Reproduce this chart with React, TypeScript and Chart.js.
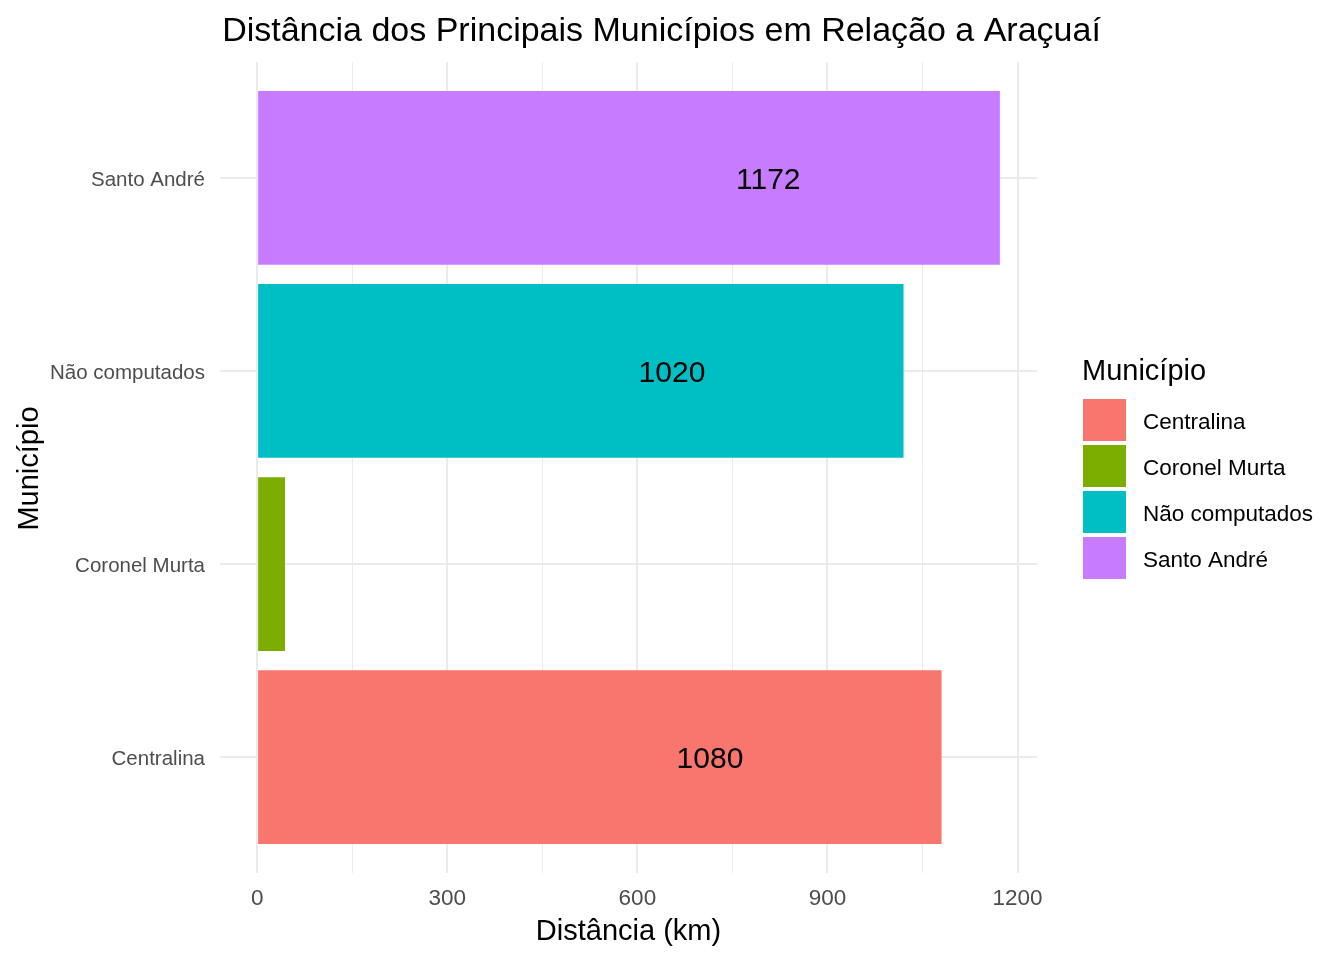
import React, { useEffect, useRef } from 'react';
import { Chart, registerables } from 'chart.js';

Chart.register(...registerables);

// ---- data ----
const categories = ['Centralina', 'Coronel Murta', 'Não computados', 'Santo André'];
const distances = [1080, 44, 1020, 1172];
const colors = ['#F8766D', '#7CAE00', '#00BFC4', '#C77CFF'];
const xMajorTicks = [0, 300, 600, 900, 1200];
const xMinorTicks = [150, 450, 750, 1050];
const titleText = 'Distância dos Principais Municípios em Relação a Araçuaí';
const xTitle = 'Distância (km)';
const yTitle = 'Município';
const legendTitle = 'Município';

const FONT = '"Liberation Sans", Arial, Helvetica, sans-serif';

const decorPlugin = {
  id: 'decor',
  afterDatasetsDraw(chart: any) {
    const ctx = chart.ctx;
    const area = chart.chartArea;
    const meta = chart.getDatasetMeta(0);
    ctx.save();
    ctx.beginPath();
    ctx.rect(area.left, area.top, area.right - area.left, area.bottom - area.top);
    ctx.clip();
    ctx.font = `30px ${FONT}`;
    ctx.fillStyle = '#000000';
    ctx.textAlign = 'center';
    ctx.textBaseline = 'middle';
    const digitW = ctx.measureText('0').width;
    meta.data.forEach((el: any, i: number) => {
      const t = String(distances[i]);
      const w = t.length * digitW;
      // ggplot geom_text with hjust = 4 (label sits left of the bar end)
      ctx.fillText(t, el.x - 3.47 * w, el.y + 2.5);
    });
    ctx.restore();
  },
  afterDraw(chart: any) {
    const ctx = chart.ctx;
    const area = chart.chartArea;
    ctx.save();
    ctx.fillStyle = '#000000';
    // title
    ctx.font = `34px ${FONT}`;
    ctx.textAlign = 'center';
    ctx.textBaseline = 'alphabetic';
    ctx.fillText(titleText, 661.5, 41);
    // x axis title
    ctx.font = `29px ${FONT}`;
    ctx.fillText(xTitle, (area.left + area.right) / 2, 940);
    // y axis title
    ctx.save();
    ctx.translate(38, (area.top + area.bottom) / 2 + 1);
    ctx.rotate(-Math.PI / 2);
    ctx.fillText(yTitle, 0, 0);
    ctx.restore();
    // legend
    ctx.textAlign = 'left';
    ctx.font = `29px ${FONT}`;
    ctx.fillText(legendTitle, 1082, 380);
    ctx.font = `22.5px ${FONT}`;
    ctx.textBaseline = 'middle';
    categories.forEach((c, i) => {
      const top = 399 + i * 46;
      ctx.fillStyle = colors[i];
      ctx.fillRect(1083, top, 43, 42);
      ctx.fillStyle = '#000000';
      ctx.fillText(c, 1143, top + 21 + 3);
    });
    ctx.restore();
  },
};

export default function App() {
  const canvasRef = useRef<HTMLCanvasElement | null>(null);

  useEffect(() => {
    if (!canvasRef.current) return;
    const maxV = Math.max(...distances);
    const chart = new Chart(canvasRef.current, {
      type: 'bar',
      data: {
        datasets: [
          {
            data: distances.map((d, i) => ({ x: d, y: i + 1 })) as any,
            backgroundColor: colors,
            borderWidth: 0,
            barPercentage: 0.9,
            categoryPercentage: 1.0,
          },
        ],
      },
      options: {
        indexAxis: 'y',
        animation: false,
        responsive: false,
        devicePixelRatio: 1,
        layout: { padding: { left: 0, top: 62, right: 307, bottom: 37 } },
        plugins: {
          legend: { display: false },
          tooltip: { enabled: false },
          title: { display: false },
        },
        scales: {
          x: {
            type: 'linear',
            min: -0.05 * maxV,
            max: 1.05 * maxV,
            offset: false,
            afterBuildTicks: (scale: any) => {
              scale.ticks = [...xMajorTicks, ...xMinorTicks]
                .sort((a, b) => a - b)
                .map((v) => ({ value: v }));
            },
            afterFit: (scale: any) => {
              scale.height = 50;
            },
            border: { display: false },
            grid: {
              offset: false,
              drawTicks: false,
              color: '#EBEBEB',
              lineWidth: (ctx: any) =>
                ctx.tick && xMajorTicks.includes(ctx.tick.value) ? 2 : 1,
            },
            ticks: {
              autoSkip: false,
              maxRotation: 0,
              padding: 12,
              color: '#4D4D4D',
              font: { family: FONT, size: 22.5 },
              callback: (v: any) => (xMajorTicks.includes(Number(v)) ? String(v) : ''),
            },
          },
          y: {
            type: 'linear',
            min: 0.4,
            max: categories.length + 0.6,
            offset: false,
            afterBuildTicks: (scale: any) => {
              scale.ticks = categories.map((_, i) => ({ value: i + 1 }));
            },
            afterFit: (scale: any) => {
              scale.width = 220;
            },
            border: { display: false },
            grid: {
              offset: false,
              drawTicks: false,
              color: '#EBEBEB',
              lineWidth: 2,
            },
            ticks: {
              autoSkip: false,
              padding: 15,
              labelOffset: 2,
              color: '#4D4D4D',
              font: { family: FONT, size: 20.5 },
              callback: (v: any) => categories[Number(v) - 1] ?? '',
            },
          },
        },
      },
      plugins: [decorPlugin],
    });
    return () => chart.destroy();
  }, []);

  return (
    <div style={{ position: 'absolute', left: 0, top: 0, width: 1344, height: 960, background: '#FFFFFF' }}>
      <canvas ref={canvasRef} width={1344} height={960} style={{ width: 1344, height: 960, display: 'block' }} />
    </div>
  );
}
